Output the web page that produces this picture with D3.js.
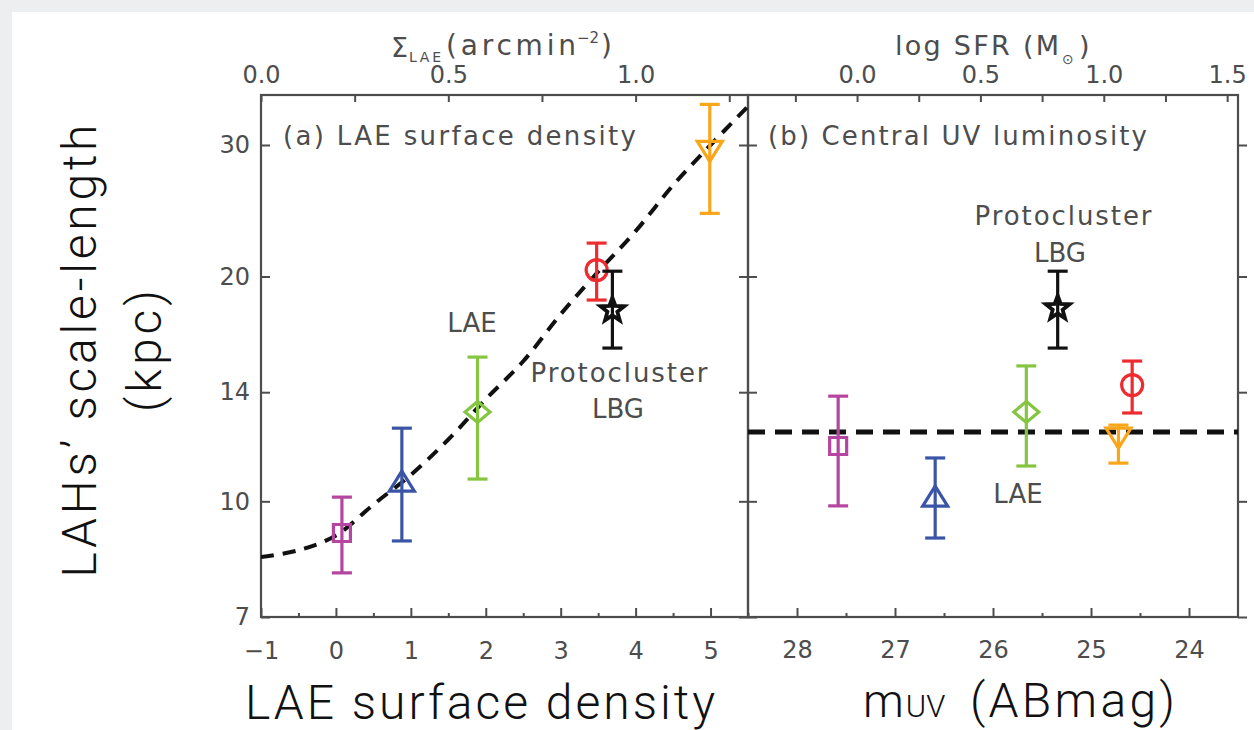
<!DOCTYPE html>
<html>
<head>
<meta charset="utf-8">
<script src="https://cdn.jsdelivr.net/npm/d3@7"></script>
<style>
  html, body { margin: 0; padding: 0; background: #ffffff; }
  svg { display: block; }
</style>
</head>
<body>
<svg id="chart" width="1254" height="730"></svg>
<script>
// ---------------- data ----------------
const sampleNames = ["LAE bin 1", "LAE bin 2", "LAE bin 3", "LAE bin 4", "Protocluster LBG", "LAE bin 5"];
const sampleColors = ["#b5459f", "#3b55a6", "#86c540", "#ee2b2e", "#111111", "#f9a61b"];
const sampleSymbols = ["square", "triangle", "diamond", "circle", "star", "triangleDown"];

// panel (a): LAE surface density vs scale-length
const densityX = [0.08, 0.88, 1.89, 3.48, 3.69, 4.99];
const scaleLenA = [9.07, 10.61, 13.17, 20.4, 18.03, 29.5];
const errLowA = [8.02, 8.85, 10.71, 18.6, 16.04, 24.3];
const errHighA = [10.13, 12.53, 15.6, 22.17, 20.33, 34.0];

// panel (b): central UV magnitude vs scale-length
const muvX = [27.58, 26.59, 25.66, 24.58, 25.34, 24.72];
const scaleLenB = [11.86, 10.13, 13.17, 14.31, 18.14, 12.19];
const errLowB = [9.86, 8.93, 11.15, 13.13, 16.04, 11.25];
const errHighB = [13.83, 11.43, 15.18, 15.41, 20.33, 12.65];

// dashed relations
const fitDensity = [-1, -0.5, 0, 0.5, 1, 1.5, 2, 2.5, 3, 3.5, 4, 4.5, 5, 5.5];
const fitScaleLen = [8.42, 8.6, 9.0, 9.9, 10.85, 12.1, 13.7, 15.4, 17.8, 20.3, 23.0, 26.5, 30.0, 33.8];
const flatScaleLen = 12.38;

// ticks
const yTicks = [7, 10, 14, 20, 30];
const densityTicks = [-1, 0, 1, 2, 3, 4, 5];
const densityMinor = [-0.5, 0.5, 1.5, 2.5, 3.5, 4.5];
const sigmaTicks = [0, 0.25, 0.5, 0.75, 1.0, 1.25];
const sigmaLabels = [0, 0.5, 1.0];
const muvTicks = [28, 27, 26, 25, 24];
const muvMinor = [28.5, 27.5, 26.5, 25.5, 24.5];
const sfrTicks = [-0.25, 0, 0.25, 0.5, 0.75, 1.0, 1.25, 1.5];
const sfrLabels = [0, 0.5, 1.0, 1.5];

// ---------------- layout ----------------
const svg = d3.select("#chart");
const W = 1254, H = 730;
const plotTop = 95, plotBottom = 617;
const aLeft = 261, mid = 748, bRight = 1238;
const ink = "#4d4d4d";
const idlFont = "DejaVu Sans, sans-serif";
const bigFont = "Roboto, Liberation Sans, sans-serif";

// background frame of the screenshot
svg.append("rect").attr("x", 0).attr("y", 0).attr("width", W).attr("height", H).attr("fill", "#ffffff");
svg.append("rect").attr("x", 0).attr("y", 0).attr("width", W).attr("height", 12).attr("fill", "#eceef0");
svg.append("rect").attr("x", 0).attr("y", 0).attr("width", 12).attr("height", H).attr("fill", "#eceef0");

const y = d3.scaleLog().domain([7, 35]).range([plotBottom, plotTop]);
const xa = d3.scaleLinear().domain([-1, 5.5]).range([aLeft, mid]);
const xaTop = d3.scaleLinear().domain([0, 1.3]).range([aLeft, mid]);
const xb = d3.scaleLinear().domain([28.5, 23.5]).range([mid, bRight]);
const xbTop = d3.scaleLinear().domain([-0.442, 1.544]).range([mid, bRight]);

function styleAxis(g, size) {
  g.select(".domain").remove();
  g.selectAll(".tick line").attr("stroke", ink).attr("stroke-width", 2);
  g.selectAll(".tick text").attr("fill", ink).attr("font-family", idlFont).attr("font-size", size);
}

// y axes
svg.append("g").attr("transform", `translate(${aLeft},0)`)
  .call(d3.axisLeft(y).tickValues(yTicks).tickFormat(d3.format("d")).tickSize(-9).tickPadding(11))
  .call(g => styleAxis(g, 24));
svg.append("g").attr("transform", `translate(${mid},0)`)
  .call(d3.axisLeft(y).tickValues(yTicks).tickFormat("").tickSize(9))
  .call(g => styleAxis(g, 24));
svg.append("g").attr("transform", `translate(${mid},0)`)
  .call(d3.axisRight(y).tickValues(yTicks).tickFormat("").tickSize(9))
  .call(g => styleAxis(g, 24));
svg.append("g").attr("transform", `translate(${bRight},0)`)
  .call(d3.axisLeft(y).tickValues(yTicks).tickFormat("").tickSize(-9))
  .call(g => styleAxis(g, 24));

// bottom axes
svg.append("g").attr("transform", `translate(0,${plotBottom})`)
  .call(d3.axisBottom(xa).tickValues(densityTicks).tickFormat(d3.format("d")).tickSize(-9).tickPadding(25))
  .call(g => styleAxis(g, 24));
svg.append("g").attr("transform", `translate(0,${plotBottom})`)
  .call(d3.axisBottom(xa).tickValues(densityMinor).tickFormat("").tickSize(-4))
  .call(g => styleAxis(g, 24));
svg.append("g").attr("transform", `translate(0,${plotBottom})`)
  .call(d3.axisBottom(xb).tickValues(muvTicks).tickFormat(d3.format("d")).tickSize(-9).tickPadding(24))
  .call(g => styleAxis(g, 24));
svg.append("g").attr("transform", `translate(0,${plotBottom})`)
  .call(d3.axisBottom(xb).tickValues(muvMinor).tickFormat("").tickSize(-4))
  .call(g => styleAxis(g, 24));

// top axes
svg.append("g").attr("transform", `translate(0,${plotTop})`)
  .call(d3.axisTop(xaTop).tickValues(sigmaTicks)
    .tickFormat(d => sigmaLabels.includes(d) ? d3.format(".1f")(d) : "").tickSize(-7).tickPadding(12))
  .call(g => styleAxis(g, 24));
svg.append("g").attr("transform", `translate(0,${plotTop})`)
  .call(d3.axisTop(xbTop).tickValues(sfrTicks)
    .tickFormat(d => sfrLabels.includes(d) ? d3.format(".1f")(d) : "").tickSize(-7).tickPadding(12))
  .call(g => styleAxis(g, 24));

// frames
svg.append("rect").attr("x", aLeft).attr("y", plotTop).attr("width", mid - aLeft).attr("height", plotBottom - plotTop)
  .attr("fill", "none").attr("stroke", ink).attr("stroke-width", 2.2);
svg.append("rect").attr("x", mid).attr("y", plotTop).attr("width", bRight - mid).attr("height", plotBottom - plotTop)
  .attr("fill", "none").attr("stroke", ink).attr("stroke-width", 2.2);

// dashed relations
const clipA = svg.append("clipPath").attr("id", "clipA");
clipA.append("rect").attr("x", aLeft).attr("y", plotTop).attr("width", mid - aLeft).attr("height", plotBottom - plotTop);
svg.append("path")
  .datum(fitDensity.map((d, i) => [d, fitScaleLen[i]]))
  .attr("clip-path", "url(#clipA)")
  .attr("d", d3.line().x(d => xa(d[0])).y(d => y(d[1])).curve(d3.curveCatmullRom))
  .attr("fill", "none").attr("stroke", "#111").attr("stroke-width", 4).attr("stroke-dasharray", "13,9");
svg.append("line")
  .attr("x1", xb.range()[0]).attr("x2", xb.range()[1])
  .attr("y1", y(flatScaleLen)).attr("y2", y(flatScaleLen))
  .attr("stroke", "#111").attr("stroke-width", 5).attr("stroke-dasharray", "17,10");

// markers
function symbolPath(kind) {
  switch (kind) {
    case "square": return "M-8.5,-8.5H8.5V8.5H-8.5Z";
    case "triangle": return "M0,-11L12.5,9L-12.5,9Z";
    case "triangleDown": return "M0,11L12.5,-9L-12.5,-9Z";
    case "diamond": return "M0,-10.5L12.5,0L0,10.5L-12.5,0Z";
    case "circle": return "M10.5,0A10.5,10.5 0 1,1 -10.5,0A10.5,10.5 0 1,1 10.5,0Z";
    case "star": {
      let p = "";
      for (let k = 0; k < 10; k++) {
        const r = k % 2 === 0 ? 12.5 : 5.2;
        const a = -Math.PI / 2 + k * Math.PI / 5;
        p += (k === 0 ? "M" : "L") + (r * Math.cos(a)).toFixed(2) + "," + (r * Math.sin(a)).toFixed(2);
      }
      return p + "Z";
    }
  }
}

function drawPoints(xs, xScale, vals, lo, hi) {
  const g = svg.append("g");
  xs.forEach((xv, i) => {
    const px = xScale(xv);
    const c = sampleColors[i];
    const gg = g.append("g").attr("class", "pt").attr("data-name", sampleNames[i]);
    gg.append("line").attr("x1", px).attr("x2", px).attr("y1", y(lo[i])).attr("y2", y(hi[i]))
      .attr("stroke", c).attr("stroke-width", 3.2);
    [lo[i], hi[i]].forEach(v => {
      gg.append("line").attr("x1", px - 10).attr("x2", px + 10).attr("y1", y(v)).attr("y2", y(v))
        .attr("stroke", c).attr("stroke-width", 3.2);
    });
    gg.append("path").attr("d", symbolPath(sampleSymbols[i]))
      .attr("transform", `translate(${px},${y(vals[i])})`)
      .attr("fill", "none").attr("stroke", c).attr("stroke-width", sampleSymbols[i] === "star" ? 3.8 : 3.2)
      .attr("stroke-linejoin", "miter");
  });
}
drawPoints(densityX, xa, scaleLenA, errLowA, errHighA);
drawPoints(muvX, xb, scaleLenB, errLowB, errHighB);

// IDL-style texts
function idlText(x, yy, str, opts = {}) {
  const t = svg.append("text").attr("x", x).attr("y", yy)
    .attr("font-family", idlFont).attr("font-size", opts.size || 26).attr("fill", ink)
    .attr("text-anchor", opts.anchor || "start").text(str);
  if (opts.len) t.attr("textLength", opts.len).attr("lengthAdjust", "spacing");
  return t;
}
idlText(283, 145, "(a) LAE surface density", { len: 353, size: 26 });
idlText(768, 145, "(b) Central UV luminosity", { len: 379, size: 26 });
idlText(472, 332, "LAE", { anchor: "middle", size: 26 });
idlText(619, 382, "Protocluster", { anchor: "middle", size: 26, len: 177 });
idlText(618, 418, "LBG", { anchor: "middle", size: 26 });
idlText(1063, 225, "Protocluster", { anchor: "middle", size: 26, len: 177 });
idlText(1060, 262, "LBG", { anchor: "middle", size: 26 });
idlText(1018, 503, "LAE", { anchor: "middle", size: 26 });

// top axis titles
idlText(391, 57, "Σ", { size: 27 });
idlText(409, 62, "LAE", { size: 14, len: 32 });
idlText(446, 55, "(arcmin", { size: 28, len: 130 });
idlText(577, 43, "−2", { size: 15 });
idlText(601, 55, ")", { size: 28 });
idlText(895, 55, "log SFR (M", { size: 27, len: 164 });
idlText(1062, 64, "⊙", { size: 14 });
idlText(1079, 55, ")", { size: 27 });

// large labels
function bigText(x, yy, str, opts = {}) {
  const t = svg.append("text").attr("x", x).attr("y", yy)
    .attr("font-family", bigFont).attr("font-weight", 300)
    .attr("font-size", opts.size || 48).attr("fill", "#111")
    .attr("text-anchor", opts.anchor || "start").text(str);
  if (opts.len) t.attr("textLength", opts.len).attr("lengthAdjust", "spacing");
  if (opts.rotate) t.attr("transform", `rotate(-90,${x},${yy})`);
  return t;
}
bigText(245, 719, "LAE surface density", { len: 470 });
const mText = bigText(863, 717, "m", { size: 46 });
const mW = mText.node().getComputedTextLength();
bigText(863 + mW + 2, 717, "UV", { size: 31 });
bigText(970, 717, "(ABmag)", { size: 48, len: 205 });
bigText(96, 351, "LAHs’ scale-length", { anchor: "middle", rotate: true, len: 453 });
bigText(161, 351, "(kpc)", { anchor: "middle", rotate: true, len: 122 });
</script>
</body>
</html>
